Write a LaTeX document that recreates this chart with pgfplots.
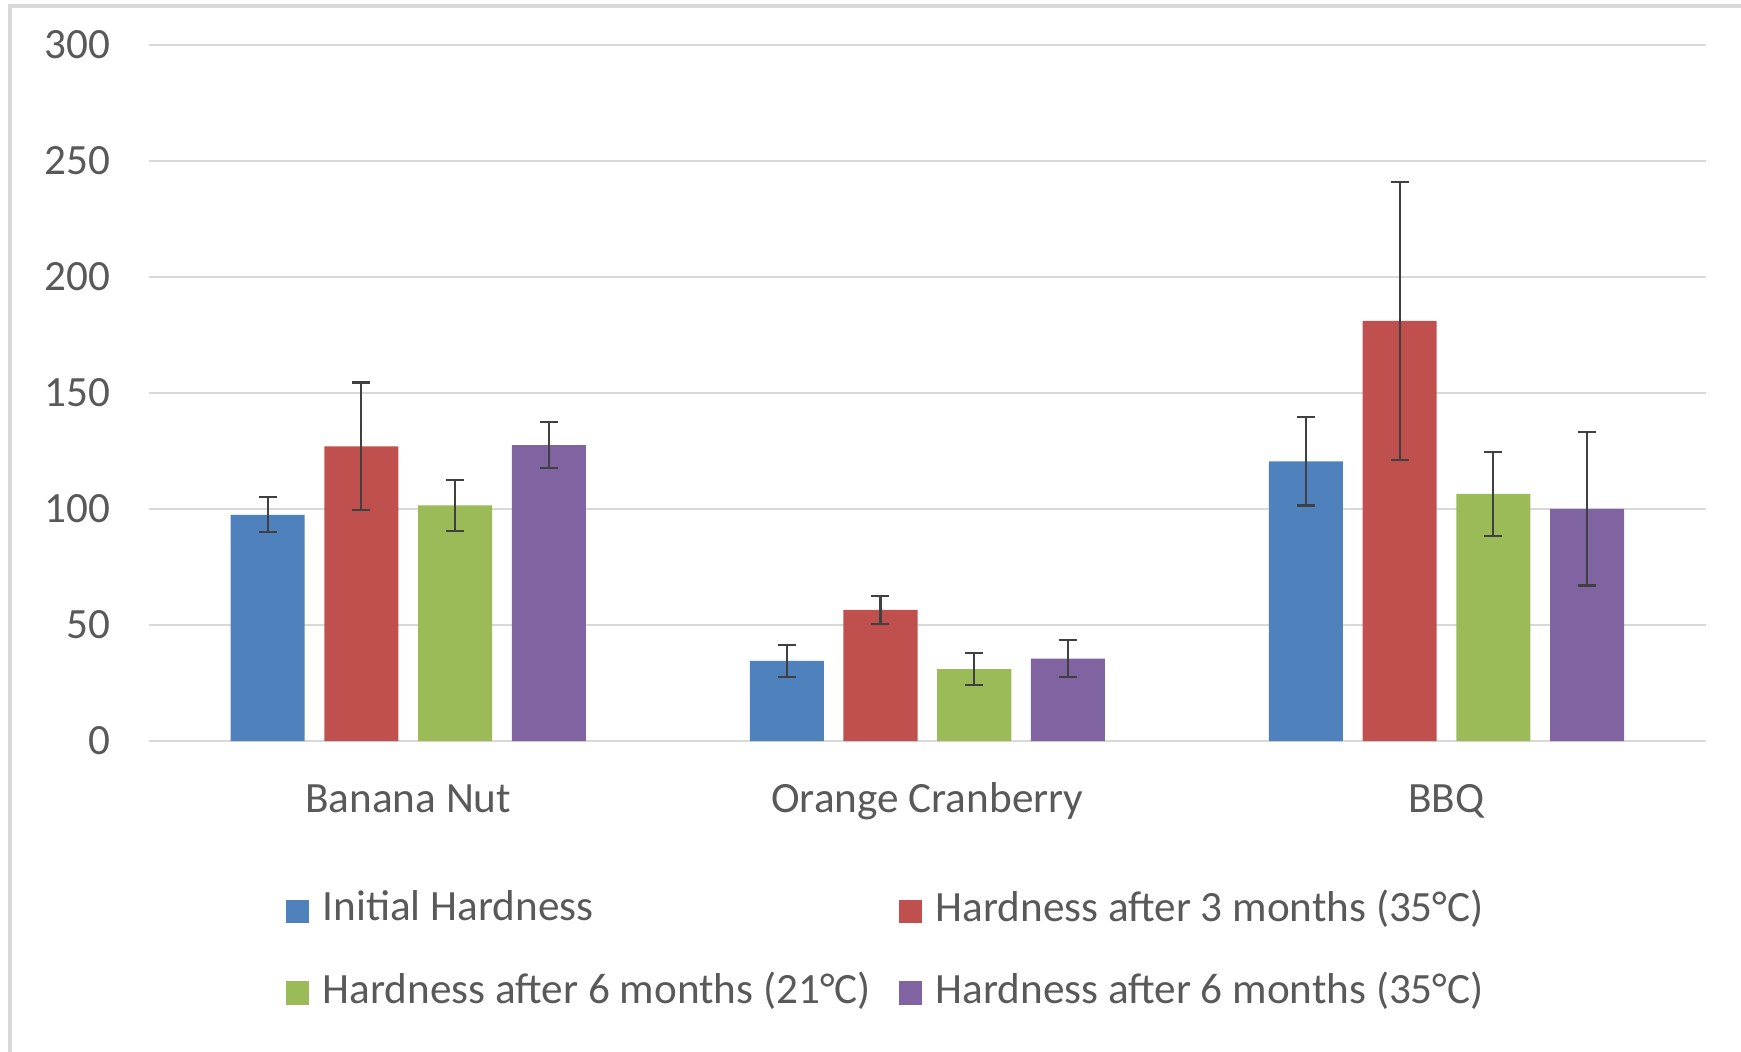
\documentclass[border=0pt]{standalone}
\usepackage{fontspec}
\setmainfont{Carlito}
\usepackage{pgfplots}
\pgfplotsset{compat=1.18}
\definecolor{cblue}{HTML}{4F81BD}
\definecolor{cred}{HTML}{C0504D}
\definecolor{cgreen}{HTML}{9BBB59}
\definecolor{cpurple}{HTML}{8064A2}
\definecolor{tgray}{HTML}{595959}
\definecolor{ggray}{HTML}{D9D9D9}
\definecolor{egray}{HTML}{404040}
\begin{document}
\begin{tikzpicture}[x=1pt,y=1pt]
\useasboundingbox (0,0) rectangle (435.25,-262.75);
\draw[ggray, line width=1pt] (2.5,-275) -- (2.5,-1.4) -- (445,-1.4);
\begin{axis}[
  at={(37.175pt,-185.25pt)}, anchor=south west,
  scale only axis, width=389.33pt, height=174.05pt,
  xmin=-0.5, xmax=2.5, ymin=0, ymax=300,
  ytick={0,50,...,300},
  xtick={0,1,2}, xticklabels={Banana Nut, Orange Cranberry, BBQ},
  axis line style={draw=none}, major tick length=0pt,
  ymajorgrids, grid style={ggray, line width=0.6pt},
  tick label style={font=\fontsize{10.8}{13}\selectfont, text=tgray},
  yticklabel style={anchor=east, inner sep=0pt, xshift=-9.4pt},
  xticklabel style={anchor=base, inner sep=0pt, yshift=-17.85pt},
  /pgf/number format/assume math mode=true,
  ybar, bar width=0.1426,
  clip=false,
  legend columns=2,
  legend cell align=left,
  legend style={draw=none, fill=none, at={(0.0875,-0.2131)}, anchor=north west,
    font=\fontsize{10.8}{13}\selectfont, text=tgray, inner sep=0pt,
    nodes={inner sep=0pt},
    /tikz/every odd column/.append style={column sep=3.5pt},
    /tikz/every even column/.append style={column sep=6.9pt},
    row sep=11pt},
  every axis plot/.append style={draw=none,
    /pgfplots/error bars/y dir=both, /pgfplots/error bars/y explicit,
    /pgfplots/error bars/error bar style={egray, line width=0.55pt},
    /pgfplots/error bars/error mark options={rotate=90, egray, mark size=2.25pt, line width=0.55pt}},
]
\addplot[fill=cblue, bar shift=-0.2708, legend image code/.code={\fill[cblue] (0pt,-3.6pt) rectangle (5.75pt,2.3pt);}]
  coordinates {(0,97.5) +- (0,7.5) (1,34.5) +- (0,7) (2,120.5) +- (0,19)};
\addplot[fill=cred, bar shift=-0.0903, legend image code/.code={\fill[cred] (0pt,-3.6pt) rectangle (5.75pt,2.3pt);}]
  coordinates {(0,127) +- (0,27.5) (1,56.5) +- (0,6) (2,181) +- (0,60)};
\addplot[fill=cgreen, bar shift=0.0903, legend image code/.code={\fill[cgreen] (0pt,-3.6pt) rectangle (5.75pt,2.3pt);}]
  coordinates {(0,101.5) +- (0,11) (1,31) +- (0,7) (2,106.5) +- (0,18)};
\addplot[fill=cpurple, bar shift=0.2708, legend image code/.code={\fill[cpurple] (0pt,-3.6pt) rectangle (5.75pt,2.3pt);}]
  coordinates {(0,127.5) +- (0,10) (1,35.5) +- (0,8) (2,100) +- (0,33)};
\legend{Initial Hardness, Hardness after 3 months (35°C), Hardness after 6 months (21°C), Hardness after 6 months (35°C)}
\end{axis}
\end{tikzpicture}
\end{document}
